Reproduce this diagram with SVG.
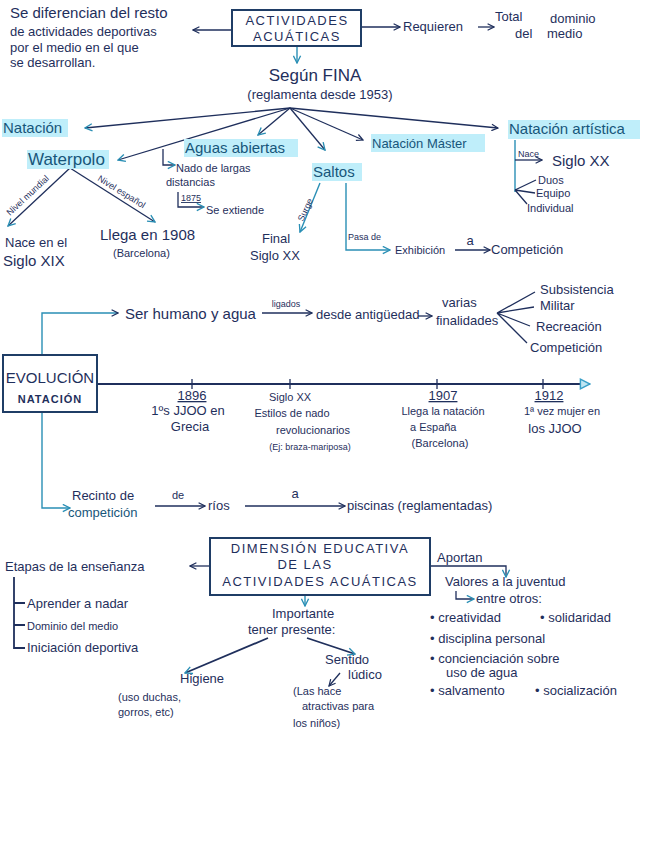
<svg xmlns="http://www.w3.org/2000/svg" width="662" height="848" viewBox="0 0 662 848">
<defs>
<marker id="ah" viewBox="0 0 10 10" refX="9" refY="5" markerWidth="8" markerHeight="8" markerUnits="userSpaceOnUse" orient="auto">
<path d="M1,1 L9,5 L1,9" fill="none" stroke="#1f2f5c" stroke-width="1.5"/>
</marker>
<marker id="ahc" viewBox="0 0 10 10" refX="9" refY="5" markerWidth="9" markerHeight="9" markerUnits="userSpaceOnUse" orient="auto">
<path d="M1,1 L9,5 L1,9" fill="none" stroke="#2a8fb5" stroke-width="1.5"/>
</marker>
<marker id="tri" viewBox="0 0 10 10" refX="9" refY="5" markerWidth="12" markerHeight="12" markerUnits="userSpaceOnUse" orient="auto">
<path d="M1,1 L9,5 L1,9 Z" fill="#bfe6f3" stroke="#3aa0c8" stroke-width="1.2"/>
</marker>
</defs>
<style>
text{font-family:"Liberation Sans",Arial,sans-serif;fill:#1f2f5c;font-size:13px}
.s{font-size:11px}
.xs{font-size:9px}
.m{font-size:15px}
.l{font-size:17px}
.c{text-anchor:middle}
.h{fill:#17567a}
.hl{fill:#bfeefa}
.ln{fill:none;stroke:#1f2f5c;stroke-width:1.3}
.lc{fill:none;stroke:#2a8fb5;stroke-width:1.4}
.box{fill:#fff;stroke:#1f3d66;stroke-width:2}
.cap{letter-spacing:1.5px}
</style>
<rect width="662" height="848" fill="#fff"/>

<g id="connectors">
<path class="ln" d="M232,30 L193,30" marker-end="url(#ah)"/>
<path class="ln" d="M361,27 L400,27" marker-end="url(#ah)"/>
<path class="ln" d="M478,27 L494,27" marker-end="url(#ah)"/>
<path class="lc" d="M297,46 L297,63" marker-end="url(#ahc)"/>
<path class="ln" d="M290,108 L85,128" marker-end="url(#ahc)"/>
<path class="ln" d="M290,108 L118,160" marker-end="url(#ahc)"/>
<path class="ln" d="M290,108 L258,135" marker-end="url(#ahc)"/>
<path class="ln" d="M290,108 L325,150" marker-end="url(#ahc)"/>
<path class="ln" d="M290,108 L363,140" marker-end="url(#ah)"/>
<path class="ln" d="M290,108 L498,128" marker-end="url(#ah)"/>
<path class="ln" d="M70,168 L8,226" marker-end="url(#ahc)"/>
<path class="ln" d="M70,168 L155,222" marker-end="url(#ahc)"/>
<path class="ln" d="M163,149 L163,165 L175,165" marker-end="url(#ahc)"/>
<path class="ln" d="M178,192 L178,207 L204,207" marker-end="url(#ahc)"/>
<path class="lc" d="M320,183 L300,232" marker-end="url(#ahc)"/>
<path class="lc" d="M346,183 L346,250 L390,250" marker-end="url(#ahc)"/>
<path class="ln" d="M455,250 L490,250" marker-end="url(#ah)"/>
<path class="lc" d="M515,140 L515,192"/>
<path class="ln" d="M515,160 L542,160" marker-end="url(#ah)"/>
<path class="ln" d="M515,190 L536,180 M515,190 L535,193 M515,190 L527,204"/>
<path class="lc" d="M42,355 L42,313 L118,313" marker-end="url(#ah)"/>
<path class="ln" d="M262,313 L312,313" marker-end="url(#ah)"/>
<path class="ln" d="M418,316 L432,316" marker-end="url(#ah)"/>
<path class="ln" d="M497,313 L535,292 M497,313 L534,307 M497,313 L530,326 M497,313 L527,343"/>
<path d="M97,384 L590,384" fill="none" stroke="#1f2f5c" stroke-width="2.2" marker-end="url(#tri)"/>
<path class="ln" d="M192,379 L192,389 M290,379 L290,389 M437,379 L437,389 M543,379 L543,389"/>
<path class="lc" d="M42,412 L42,508 L70,508" marker-end="url(#ahc)"/>
<path class="ln" d="M155,506 L205,506" marker-end="url(#ah)"/>
<path class="ln" d="M245,506 L345,506" marker-end="url(#ah)"/>
<path class="ln" d="M210,566 L190,566" marker-end="url(#ah)"/>
<path class="ln" d="M14,577 L14,648 L25,648 M14,603 L25,603 M14,625 L25,625" style="stroke-width:1.8"/>
<path class="ln" d="M430,566 L506,566 L506,577" marker-end="url(#ahc)"/>
<path class="ln" d="M456,591 L456,599 L474,599" marker-end="url(#ahc)"/>
<path class="lc" d="M305,595 L305,606" marker-end="url(#ahc)"/>
<path class="ln" d="M268,638 L185,673" marker-end="url(#ahc)" style="stroke-width:1.8"/>
<path class="ln" d="M307,638 L355,654" marker-end="url(#ahc)" style="stroke-width:1.8"/>
<path class="ln" d="M340,673 L329,686" marker-end="url(#ah)"/>
</g>

<g id="diferencian">
<text x="10" y="18" class="m">Se diferencian del resto</text>
<text x="10" y="36">de actividades deportivas</text>
<text x="10" y="52">por el medio en el que</text>
<text x="10" y="67">se desarrollan.</text>
</g>

<g id="actividades">
<rect class="box" x="232" y="10" width="129" height="36"/>
<text x="297" y="25" class="c cap">ACTIVIDADES</text>
<text x="297" y="41" class="c cap">ACUÁTICAS</text>
</g>

<g id="requieren">
<text x="403" y="31">Requieren</text>
<text x="495" y="21">Total</text>
<text x="550" y="23">dominio</text>
<text x="515" y="38">del</text>
<text x="547" y="38">medio</text>
</g>

<g id="fina">
<text x="315" y="81" class="c l">Según FINA</text>
<text x="320" y="99" class="c">(reglamenta desde 1953)</text>
</g>

<g id="natacion">
<rect class="hl" x="2" y="119" width="66" height="18"/>
<text x="3" y="133" class="m h">Natación</text>
</g>

<g id="waterpolo">
<rect class="hl" x="27" y="150" width="82" height="19"/>
<text x="28" y="165" class="l h">Waterpolo</text>
<text x="0" y="0" class="xs" transform="translate(10,216) rotate(-43)">Nivel mundial</text>
<text x="0" y="0" class="xs" transform="translate(97,180) rotate(32)">Nivel español</text>
<text x="5" y="247">Nace en el</text>
<text x="3" y="266" class="m">Siglo XIX</text>
<text x="100" y="240" class="m">Llega en 1908</text>
<text x="113" y="257" class="s">(Barcelona)</text>
</g>

<g id="aguas">
<rect class="hl" x="184" y="139" width="114" height="18"/>
<text x="185" y="153" class="m h">Aguas abiertas</text>
<text x="176" y="172" class="s">Nado de largas</text>
<text x="166" y="186" class="s">distancias</text>
<text x="181" y="201" class="xs" text-decoration="underline">1875</text>
<text x="206" y="214" class="s">Se extiende</text>
</g>

<g id="saltos">
<rect class="hl" x="312" y="163" width="50" height="18"/>
<text x="313" y="177" class="m h">Saltos</text>
<text x="0" y="0" class="xs" transform="translate(303,222) rotate(-65)">Surge</text>
<text x="262" y="243">Final</text>
<text x="250" y="260">Siglo XX</text>
<text x="348" y="240" class="xs">Pasa de</text>
<text x="395" y="254" class="s">Exhibición</text>
<text x="470" y="245" class="c">a</text>
<text x="491" y="254">Competición</text>
</g>

<g id="master">
<rect class="hl" x="371" y="134" width="114" height="18"/>
<text x="372" y="148" class="h" font-size="14">Natación Máster</text>
</g>

<g id="artistica">
<rect class="hl" x="508" y="120" width="132" height="19"/>
<text x="509" y="134" class="m h">Natación artística</text>
<text x="518" y="157" class="xs">Nace</text>
<text x="552" y="166" class="m">Siglo XX</text>
<text x="538" y="184" class="s">Duos</text>
<text x="536" y="197" class="s">Equipo</text>
<text x="527" y="212" class="s">Individual</text>
</g>

<g id="evolucion">
<rect class="box" x="3" y="355" width="94" height="57"/>
<text x="50" y="383" class="c m">EVOLUCIÓN</text>
<text x="50" y="403" class="c s" font-weight="bold" letter-spacing="1">NATACIÓN</text>
</g>

<g id="serhumano">
<text x="125" y="319" class="m">Ser humano y agua</text>
<text x="286" y="307" class="c xs">ligados</text>
<text x="316" y="319" font-size="12">desde antigüedad</text>
<text x="442" y="307">varias</text>
<text x="436" y="325">finalidades</text>
<text x="540" y="294">Subsistencia</text>
<text x="540" y="310">Militar</text>
<text x="536" y="331">Recreación</text>
<text x="530" y="352">Competición</text>
</g>

<g id="t1896">
<text x="192" y="400" class="c" text-decoration="underline">1896</text>
<text x="188" y="415" class="c">1ºs JJOO en</text>
<text x="190" y="431" class="c">Grecia</text>
</g>
<g id="tsigloxx">
<text x="290" y="401" class="c s">Siglo XX</text>
<text x="292" y="417" class="c s">Estilos de nado</text>
<text x="313" y="434" class="c s">revolucionarios</text>
<text x="310" y="450" class="c xs">(Ej: braza-mariposa)</text>
</g>
<g id="t1907">
<text x="443" y="400" class="c" text-decoration="underline">1907</text>
<text x="443" y="415" class="c s">Llega la natación</text>
<text x="410" y="431" class="s">a España</text>
<text x="440" y="447" class="c s">(Barcelona)</text>
</g>
<g id="t1912">
<text x="549" y="400" class="c" text-decoration="underline">1912</text>
<text x="562" y="415" class="c s">1ª vez mujer en</text>
<text x="555" y="433" class="c">los JJOO</text>
</g>

<g id="recinto">
<text x="72" y="500">Recinto de</text>
<text x="68" y="517" class="h">competición</text>
<text x="178" y="499" class="c s">de</text>
<text x="208" y="510">ríos</text>
<text x="295" y="498" class="c">a</text>
<text x="347" y="510">piscinas (reglamentadas)</text>
</g>

<g id="dimension">
<rect class="box" x="210" y="538" width="220" height="57"/>
<text x="320" y="553" class="c cap">DIMENSIÓN EDUCATIVA</text>
<text x="305" y="569" class="c cap">DE LAS</text>
<text x="320" y="586" class="c cap">ACTIVIDADES ACUÁTICAS</text>
</g>

<g id="etapas">
<text x="5" y="571">Etapas de la enseñanza</text>
<text x="27" y="608">Aprender a nadar</text>
<text x="27" y="630" class="s">Dominio del medio</text>
<text x="27" y="652">Iniciación deportiva</text>
</g>

<g id="aportan">
<text x="437" y="562">Aportan</text>
<text x="445" y="586">Valores a la juventud</text>
<text x="476" y="603">entre otros:</text>
<text x="430" y="622">• creatividad</text>
<text x="540" y="622">• solidaridad</text>
<text x="430" y="643">• disciplina personal</text>
<text x="430" y="663">• concienciación sobre</text>
<text x="446" y="677">uso de agua</text>
<text x="430" y="695">• salvamento</text>
<text x="535" y="695">• socialización</text>
</g>

<g id="importante">
<text x="272" y="618">Importante</text>
<text x="248" y="634">tener presente:</text>
</g>

<g id="higiene">
<text x="180" y="683">Higiene</text>
<text x="118" y="701" class="s">(uso duchas,</text>
<text x="118" y="716" class="s">gorros, etc)</text>
</g>

<g id="ludico">
<text x="325" y="664">Sentido</text>
<text x="348" y="679">lúdico</text>
<text x="293" y="695" class="s">(Las hace</text>
<text x="302" y="710" class="s">atractivas para</text>
<text x="293" y="727" class="s">los niños)</text>
</g>
</svg>
